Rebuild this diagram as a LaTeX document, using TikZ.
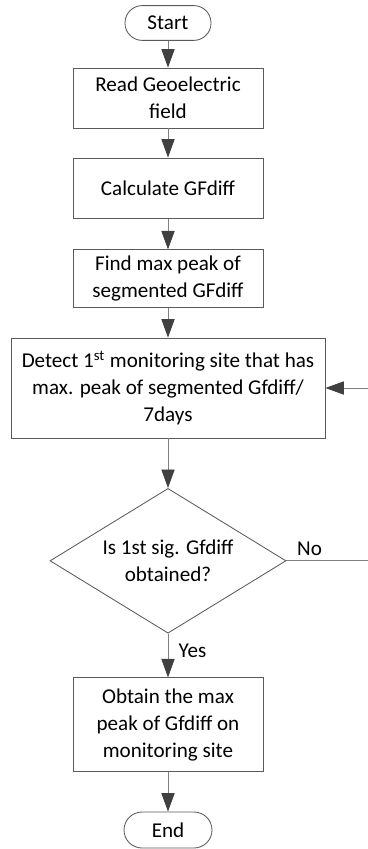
\documentclass[tikz,border=0pt]{standalone}
\usepackage{fontspec}
\setmainfont{Carlito}
\usetikzlibrary{arrows.meta,positioning,shapes.geometric,calc}
\definecolor{fcline}{RGB}{128,128,128}
\definecolor{fcbox}{RGB}{90,90,90}
\definecolor{fchead}{RGB}{64,64,64}
\tikzset{
  procbox/.style={draw=fcbox,line width=0.6pt,minimum width=4.75cm,align=center,
    font=\fontsize{15}{19}\selectfont},
  termbox/.style={draw=fcbox,line width=0.6pt,rounded corners=0.43cm,minimum width=2.15cm,
    minimum height=0.87cm,font=\fontsize{15}{19}\selectfont},
  decbox/.style={draw=fcbox,line width=0.6pt,diamond,aspect=1.6,inner sep=0pt,
    minimum width=5.9cm,minimum height=3.62cm,align=center,font=\fontsize{15}{19}\selectfont},
  flow/.style={draw=fcline,line width=0.6pt,
    -{Triangle[length=0.46cm,width=0.33cm,fill=fchead,color=fchead]}},
  lbl/.style={font=\fontsize{15}{19}\selectfont}
}

\begin{document}
\begin{tikzpicture}
  \useasboundingbox (0,0) rectangle (9.175,-21.225);
  \node[termbox] (start) at (4.2,-0.575) {Start};
  \node[procbox,minimum height=1.5cm] (read) at (4.2,-2.45) {Read Geoelectric\\field};
  \node[procbox,minimum height=1.52cm] (calc) at (4.2,-4.71) {Calculate GFdiff};
  \node[procbox,minimum height=1.45cm] (find) at (4.2,-6.97) {Find max peak of\\segmented GFdiff};
  \node[procbox,minimum width=7.85cm,minimum height=2.5cm] (detect) at (4.2,-9.7)
    {Detect 1\textsuperscript{st} monitoring site that has\\max. peak of segmented Gfdiff/\\7days};
  \node[decbox] (check) at (4.2,-14.02) {Is 1st sig. Gfdiff\\obtained?};
  \node[procbox,minimum height=2.35cm] (obtain) at (4.2,-18.12)
    {Obtain the max\\peak of Gfdiff on\\monitoring site};
  \node[termbox,minimum width=2.2cm,minimum height=0.9cm,rounded corners=0.45cm] (stop) at (4.2,-20.75) {End};
  \coordinate (back) at (9.3,-14.02);

  \draw[flow] (start) -- (read);
  \draw[flow] (read) -- (calc);
  \draw[flow] (calc) -- (find);
  \draw[flow] (find) -- (detect);
  \draw[flow] (detect) -- (check);
  \draw[flow] (check.south) -- node[lbl,right,xshift=4pt,yshift=3pt] {Yes} (obtain.north);
  \draw[flow] (obtain) -- (stop);
  \draw[flow] (check.east) -- node[lbl,above,pos=0.27] {No} (back) |- (detect.east);
\end{tikzpicture}
\end{document}
